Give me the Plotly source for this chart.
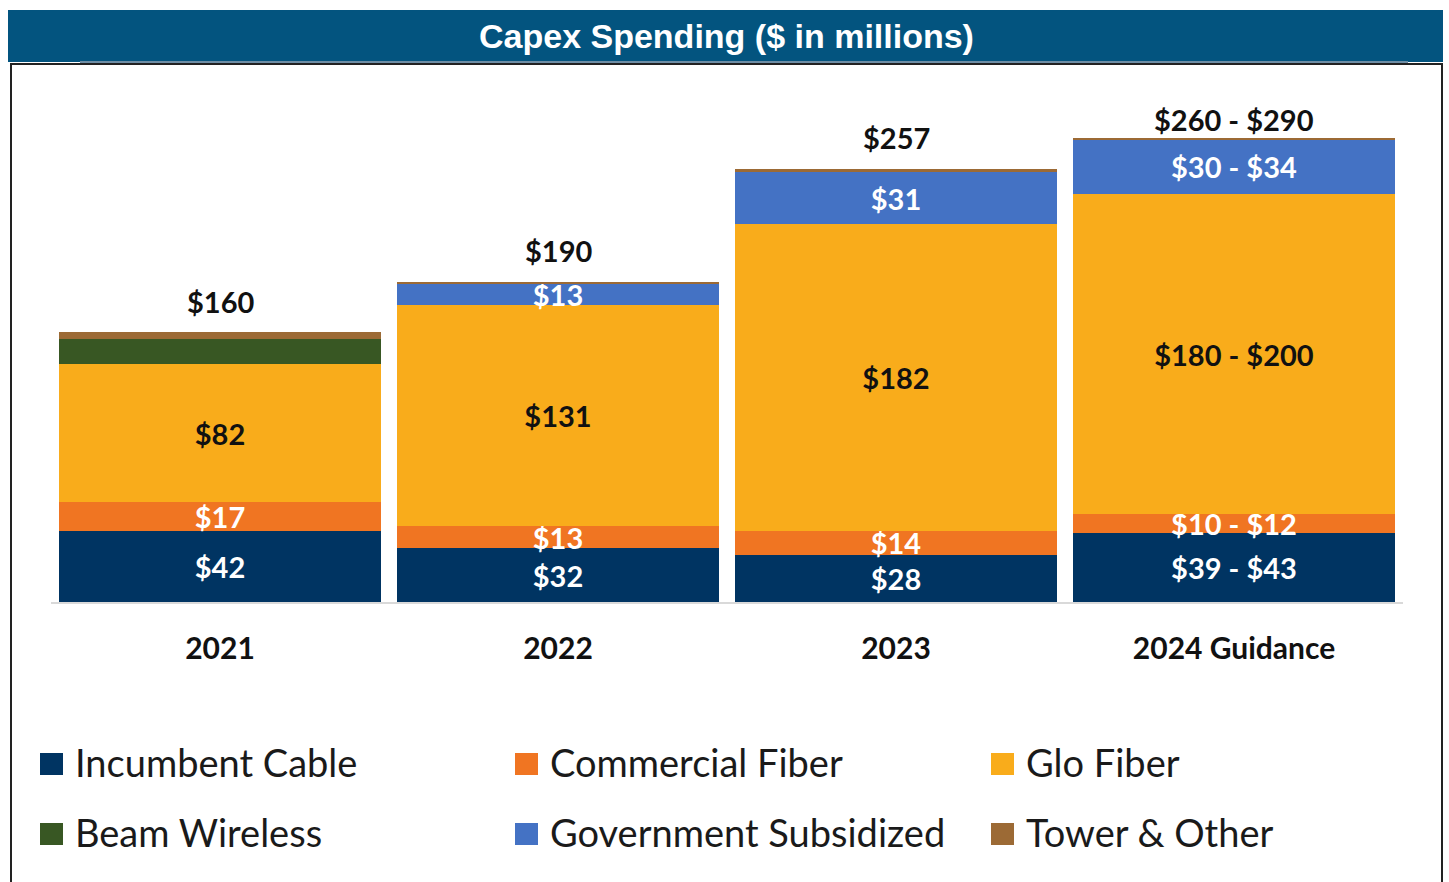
import plotly.graph_objects as go

# ---- data ($ in millions; 2024 guidance bars use the midpoint of each range)
categories = ["2021", "2022", "2023", "2024 Guidance"]

series_names = ["Incumbent Cable", "Commercial Fiber", "Glo Fiber",
                "Beam Wireless", "Government Subsidized", "Tower & Other"]

incumbent_cable = [42, 32, 28, 41]
commercial_fiber = [17, 13, 14, 11]
glo_fiber = [82, 131, 182, 190]
beam_wireless = [15, 0, 0, 0]
government_subsidized = [0, 13, 31, 32]
tower_other = [4, 1, 2, 1]

incumbent_cable_text = ["$42", "$32", "$28", "$39 - $43"]
commercial_fiber_text = ["$17", "$13", "$14", "$10 - $12"]
glo_fiber_text = ["$82", "$131", "$182", "$180 - $200"]
beam_wireless_text = ["", "", "", ""]
government_subsidized_text = ["", "$13", "$31", "$30 - $34"]
tower_other_text = ["", "", "", ""]

total_text = ["$160", "$190", "$257", "$260 - $290"]

# ---- styling
colors = ["#003462", "#f07522", "#f9ac1b", "#385723", "#4472c4", "#9c6a35"]
label_colors = ["white", "white", "#111111", "white", "white", "white"]

W, H = 1449, 882
M_L, M_R, M_T, M_B = 51, 46, 96, 280
PLOT_W = W - M_L - M_R
PLOT_H = H - M_T - M_B


def px_x(px):
    return (px - M_L) / PLOT_W


def px_y(py):
    return (H - M_B - py) / PLOT_H


series_values = [incumbent_cable, commercial_fiber, glo_fiber,
                 beam_wireless, government_subsidized, tower_other]
series_text = [incumbent_cable_text, commercial_fiber_text, glo_fiber_text,
               beam_wireless_text, government_subsidized_text, tower_other_text]

fig = go.Figure()
for name, vals, txt, col, tcol in zip(series_names, series_values, series_text,
                                      colors, label_colors):
    fig.add_trace(go.Bar(
        name=name, x=categories, y=vals, text=txt,
        marker=dict(color=col, line=dict(width=0)),
        textposition="inside", insidetextanchor="middle", textangle=0,
        constraintext="none", cliponaxis=False,
        textfont=dict(family="Lato", size=29, color=tcol, weight="bold"),
        hoverinfo="name+y", showlegend=False,
    ))

# totals above each stack (x given as category index)
totals = [sum(v[i] for v in series_values) for i in range(len(categories))]
annotations = []
for i, (tot, txt) in enumerate(zip(totals, total_text)):
    lift = 19 if i == len(categories) - 1 else 31
    annotations.append(dict(
        x=i, y=tot, text=txt, showarrow=False, xref="x", yref="y",
        yanchor="middle", yshift=lift,
        font=dict(family="Lato", size=29, color="#111111", weight="bold"),
    ))

# title banner text
annotations.append(dict(
    x=px_x(726), y=px_y(36), xref="paper", yref="paper",
    text="<b>Capex Spending ($ in millions)</b>", showarrow=False,
    xanchor="center", yanchor="middle",
    font=dict(family="Liberation Sans", size=34, color="white"),
))

shapes = [
    # banner
    dict(type="rect", xref="paper", yref="paper",
         x0=px_x(8), x1=px_x(1443), y0=px_y(62), y1=px_y(10),
         fillcolor="#03547f", line=dict(width=0), layer="below"),
    dict(type="line", xref="paper", yref="paper",
         x0=px_x(80), x1=px_x(1408), y0=px_y(62), y1=px_y(62),
         line=dict(color="#6f8ea5", width=2)),
    # frame
    dict(type="rect", xref="paper", yref="paper",
         x0=px_x(11), x1=px_x(1442), y0=px_y(900), y1=px_y(64),
         line=dict(color="#222222", width=2), fillcolor="rgba(0,0,0,0)",
         layer="below"),
]

# legend: 3 columns x 2 rows of colour squares with labels
legend_cols = [40, 515, 991]
legend_rows = [763, 833]
for k, (name, col) in enumerate(zip(series_names, colors)):
    cx = legend_cols[k % 3]
    cy = legend_rows[k // 3]
    shapes.append(dict(
        type="rect", xref="paper", yref="paper",
        x0=px_x(cx), x1=px_x(cx + 23), y0=px_y(cy + 12), y1=px_y(cy - 10),
        fillcolor=col, line=dict(width=0),
    ))
    annotations.append(dict(
        x=px_x(cx + 33), y=px_y(cy - 1), xref="paper", yref="paper",
        text=name, showarrow=False, xanchor="left", yanchor="middle",
        font=dict(family="Lato", size=38, color="#1a1a1a"),
    ))

fig.update_layout(
    width=W, height=H,
    margin=dict(l=M_L, r=M_R, t=M_T, b=M_B),
    barmode="stack", bargap=0.047,
    paper_bgcolor="white", plot_bgcolor="white",
    showlegend=False,
    annotations=annotations, shapes=shapes,
    xaxis=dict(
        type="category", range=[-0.5, len(categories) - 0.5],
        showgrid=False, zeroline=False, showline=True,
        linecolor="#d9d9d9", linewidth=2,
        ticks="", ticklabelstandoff=19,
        tickfont=dict(family="Lato", size=30, color="#111111", weight="bold"),
    ),
    yaxis=dict(range=[0, 300], visible=False, showgrid=False, zeroline=False),
)

fig.write_html("out.html")
